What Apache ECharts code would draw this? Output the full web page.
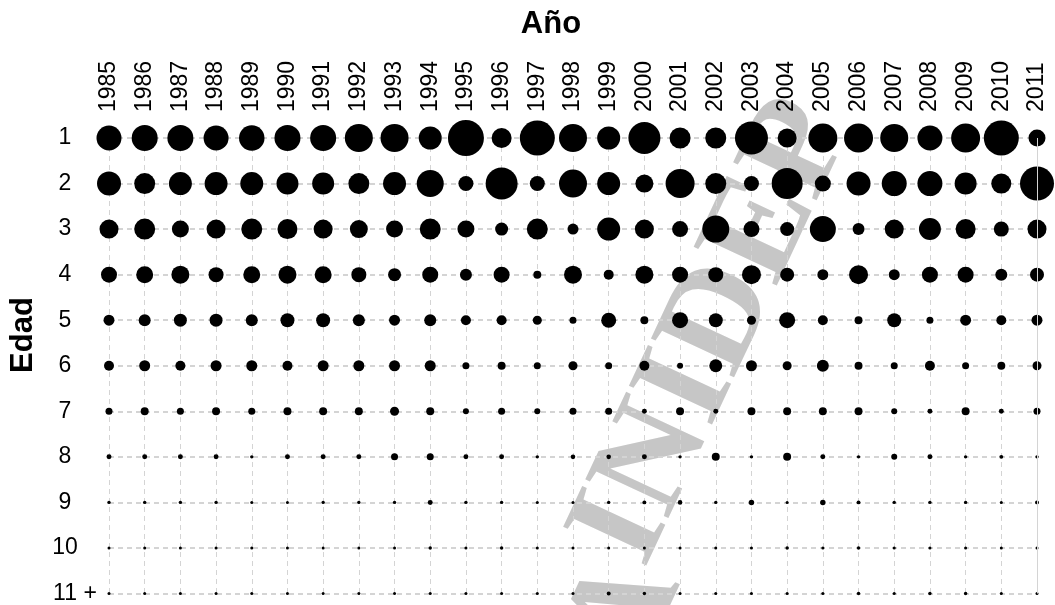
<!DOCTYPE html>
<html>
<head>
<meta charset="utf-8">
<script src="https://cdn.jsdelivr.net/npm/echarts@6/dist/echarts.min.js"></script>
<style>
  html, body { margin: 0; padding: 0; background: #ffffff; }
  #chart { width: 1055px; height: 605px; }
</style>
</head>
<body>
<div id="chart"></div>
<script>
// Years (columns) and age classes (rows)
const years = ['1985','1986','1987','1988','1989','1990','1991','1992','1993','1994',
               '1995','1996','1997','1998','1999','2000','2001','2002','2003','2004',
               '2005','2006','2007','2008','2009','2010','2011'];
const ages = ['1','2','3','4','5','6','7','8','9','10','11 +'];

// Relative abundance per age class, one value per year (1985-2011)
const age1  = [48.2,52.2,52.2,48.2,50.2,52.2,52.2,60.5,60.5,40.8,100,30.9,94.5,60.5,40.8,79.0,34.0,34.0,84.0,27.9,64.9,64.9,60.5,48.2,64.9,94.5,22.3];
const age2  = [44.4,34.0,40.8,40.8,40.8,37.3,37.3,34.0,40.8,56.3,17.4,79.0,17.4,60.5,40.8,25.0,64.9,34.0,17.4,74.2,19.8,44.4,48.2,48.2,37.3,30.9,89.2];
const age3  = [27.9,34.0,22.3,27.9,34.0,30.9,27.9,25.0,22.3,34.0,22.3,13.0,34.0,9.3,40.8,27.9,19.8,56.3,19.8,15.1,52.2,11.1,27.9,37.3,30.9,17.4,27.9];
const age4  = [19.8,22.3,25.0,17.4,22.3,25.0,22.3,17.4,13.0,19.8,11.1,19.8,4.9,25.0,7.7,25.0,19.8,17.4,27.9,15.1,9.3,27.9,9.3,19.8,19.8,11.1,15.1];
const age5  = [9.3,11.1,13.0,13.0,11.1,15.1,15.1,11.1,9.3,11.1,7.7,7.7,6.3,3.8,17.4,4.9,19.8,15.1,6.3,19.8,7.7,4.9,15.1,3.8,9.3,7.7,9.3];
const age6  = [7.7,9.3,7.7,9.3,9.3,7.7,9.3,9.3,9.3,9.3,3.8,4.9,3.8,6.3,3.8,7.7,2.8,13.0,9.3,6.3,11.1,4.9,3.8,7.7,3.8,4.9,6.3];
const age7  = [3.8,4.9,3.8,4.9,3.8,4.9,4.9,4.9,6.3,4.9,2.8,3.8,2.8,3.8,3.8,1.9,4.9,1.9,4.9,4.9,4.9,4.9,2.8,1.9,4.9,1.9,3.8];
const age8  = [1.9,1.9,1.9,1.9,0.9,1.9,1.9,1.9,3.8,3.8,1.9,1.9,0.9,1.6,1.6,1.9,0.9,4.9,0.9,4.9,1.9,0.9,2.8,1.9,0.9,1.2,0.9];
const age9  = [0.9,0.9,0.9,0.9,0.7,0.7,0.9,0.9,0.9,1.9,0.9,0.9,0.7,0.7,0.9,1.2,1.6,0.9,2.3,0.7,2.3,1.2,0.9,0.9,0.9,0.7,1.2];
const age10 = [0.7,0.7,0.7,0.7,0.7,0.7,0.7,0.7,0.7,0.9,0.7,0.9,0.7,0.7,0.7,0.7,0.7,0.7,0.7,0.9,0.7,0.9,0.7,0.7,0.7,0.7,0.7];
const age11 = [0.7,0.7,0.7,0.7,0.7,0.7,0.7,0.7,0.7,0.7,0.7,0.7,0.7,0.7,1.2,0.9,0.7,0.7,0.7,0.7,0.7,0.9,0.7,0.9,0.9,0.7,0.7];

const byAge = [age1, age2, age3, age4, age5, age6, age7, age8, age9, age10, age11];

// [year, age, value] triples for the bubble series
const points = [];
byAge.forEach((row, i) => {
  row.forEach((v, j) => points.push([years[j], ages[i], v]));
});

// Bubble area proportional to the value
const bubbleSize = (d) => 3.6 * Math.sqrt(d[2]);

const FONT = '"Liberation Sans", Arial, Helvetica, sans-serif';
const SERIF = 'bold 140px "Liberation Serif", "DejaVu Serif", serif';
const WM_ANGLE = 65 * Math.PI / 180;

const chart = echarts.init(document.getElementById('chart'), null, { renderer: 'canvas' });

chart.setOption({
  animation: false,
  backgroundColor: '#ffffff',
  grid: { left: 109, right: 18, top: 138, bottom: 9, containLabel: false },
  xAxis: {
    type: 'category',
    data: years,
    position: 'top',
    boundaryGap: false,
    axisLine: { show: false },
    axisTick: { show: false },
    axisLabel: {
      rotate: -90,
      margin: 26,
      fontFamily: FONT,
      fontSize: 23,
      color: '#000000'
    },
    splitLine: {
      show: true,
      lineStyle: { color: '#d4d4d4', width: 1, type: [5, 4] }
    }
  },
  yAxis: {
    type: 'category',
    data: ages,
    inverse: true,
    boundaryGap: false,
    axisLine: { show: false },
    axisTick: { show: false },
    axisLabel: {
      align: 'left',
      margin: 56,
      fontFamily: FONT,
      fontSize: 23,
      color: '#000000',
      formatter: (v) => {
        const parts = v.split(' ');
        return parts.length > 1 ? '{c|' + parts[0] + '}{p| ' + parts[1] + '}' : '{c|' + v + '}';
      },
      rich: {
        c: { width: 24, align: 'center', fontFamily: FONT, fontSize: 23, color: '#000000' },
        p: { fontFamily: FONT, fontSize: 23, color: '#000000' }
      }
    },
    splitLine: {
      show: true,
      lineStyle: { color: '#d4d4d4', width: 2, type: [5, 4] }
    }
  },
  graphic: [
    // Watermark, drawn behind the grid
    {
      type: 'text',
      x: 882, y: 140,
      rotation: WM_ANGLE,
      z: -10,
      silent: true,
      style: {
        text: 'INIDEP',
        font: SERIF,
        fill: '#c6c6c6',
        stroke: '#ffffff',
        lineWidth: 2,
        textAlign: 'right',
        textVerticalAlign: 'bottom'
      }
    },
    {
      type: 'text',
      x: 626, y: 614,
      rotation: WM_ANGLE,
      z: -10,
      silent: true,
      style: {
        text: 'A',
        font: SERIF,
        fill: '#c6c6c6',
        stroke: '#ffffff',
        lineWidth: 2,
        textAlign: 'center',
        textVerticalAlign: 'middle'
      }
    },
    {
      type: 'text',
      x: 551, y: 24,
      silent: true,
      style: {
        text: 'Año',
        font: 'bold 31px ' + FONT,
        fill: '#000000',
        textAlign: 'center',
        textVerticalAlign: 'middle'
      }
    },
    {
      type: 'text',
      x: 23, y: 335,
      rotation: Math.PI / 2,
      silent: true,
      style: {
        text: 'Edad',
        font: 'bold 31px ' + FONT,
        fill: '#000000',
        textAlign: 'center',
        textVerticalAlign: 'middle'
      }
    }
  ],
  series: [
    {
      type: 'scatter',
      data: points,
      symbol: 'circle',
      symbolSize: bubbleSize,
      itemStyle: { color: '#000000', opacity: 1 },
      emphasis: { disabled: true },
      markLine: {
        silent: true,
        symbol: 'none',
        label: { show: false },
        lineStyle: { color: '#d4d4d4', width: 1, type: 'solid' },
        data: [{ xAxis: '2011' }]
      }
    }
  ]
});
</script>
</body>
</html>
